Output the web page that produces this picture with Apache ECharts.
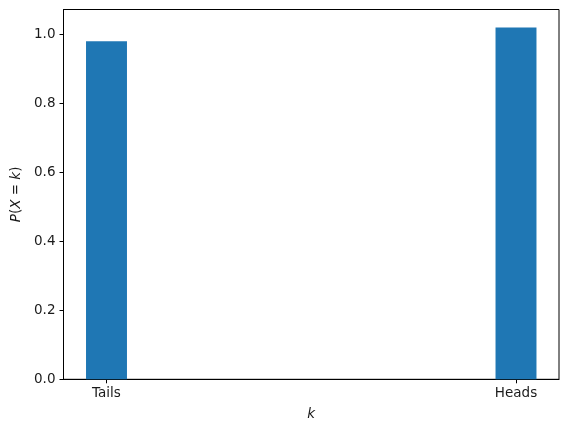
<!DOCTYPE html>
<html>
<head>
<meta charset="utf-8">
<script src="https://cdn.jsdelivr.net/npm/echarts@6/dist/echarts.min.js"></script>
<style>
html,body{margin:0;padding:0;background:#fff;}
#main{width:569px;height:433px;}
</style>
</head>
<body>
<div id="main"></div>
<script>
var categories = ['Tails', 'Heads'];
var positions = [0, 1];
var probabilities = [0.98, 1.02];
var yTicks = [0, 0.2, 0.4, 0.6, 0.8, 1.0];

var chart = echarts.init(document.getElementById('main'), null, {renderer: 'canvas'});
var font = 'DejaVu Sans';
var barData = positions.map(function (p, i) { return [p, probabilities[i]]; });

chart.setOption({
  animation: false,
  backgroundColor: '#ffffff',
  grid: {
    left: 63.5, right: 10, top: 9.5, bottom: 53.7,
    show: true, borderColor: '#000', borderWidth: 1, backgroundColor: 'transparent'
  },
  xAxis: {
    type: 'value',
    min: -0.105, max: 1.105,
    splitLine: {show: false},
    axisLine: {show: true, onZero: false, lineStyle: {color: '#000', width: 1}},
    axisTick: {show: true, length: 4, customValues: positions, lineStyle: {color: '#000'}},
    axisLabel: {
      customValues: positions,
      margin: 7,
      color: '#1a1a1a', fontFamily: font, fontSize: 13.5,
      formatter: function (v) {
        var idx = positions.indexOf(v);
        return idx >= 0 ? categories[idx] : '';
      }
    },
    name: 'k',
    nameLocation: 'middle',
    nameGap: 28,
    nameTextStyle: {fontFamily: font, fontSize: 13.5, fontStyle: 'italic', color: '#1a1a1a'}
  },
  yAxis: {
    type: 'value',
    min: 0, max: 1.0719,
    splitLine: {show: false},
    axisLine: {show: true, onZero: false, lineStyle: {color: '#000', width: 1}},
    axisTick: {show: true, length: 4, customValues: yTicks, lineStyle: {color: '#000'}},
    axisLabel: {
      customValues: yTicks,
      margin: 8,
      color: '#1a1a1a', fontFamily: font, fontSize: 13.5,
      formatter: function (v) { return v.toFixed(1); }
    },
    name: '{i|P}{n|(}{i|X}{n| = }{i|k}{n|)}',
    nameLocation: 'middle',
    nameGap: 38,
    nameRotate: 90,
    nameTextStyle: {
      fontFamily: font, fontSize: 13.5, color: '#1a1a1a',
      rich: {
        i: {fontFamily: font, fontSize: 13.5, fontStyle: 'italic', color: '#1a1a1a'},
        n: {fontFamily: font, fontSize: 13.5, color: '#1a1a1a'}
      }
    }
  },
  series: [{
    type: 'custom',
    data: barData,
    encode: {x: 0, y: 1},
    renderItem: function (params, api) {
      var x = api.value(0), y = api.value(1);
      var halfW = 0.05;
      var p1 = api.coord([x - halfW, y]);
      var p2 = api.coord([x + halfW, 0]);
      return {
        type: 'rect',
        shape: {x: p1[0], y: p1[1], width: p2[0] - p1[0], height: p2[1] - p1[1]},
        style: {fill: '#1f77b4'}
      };
    }
  }]
});
</script>
</body>
</html>
